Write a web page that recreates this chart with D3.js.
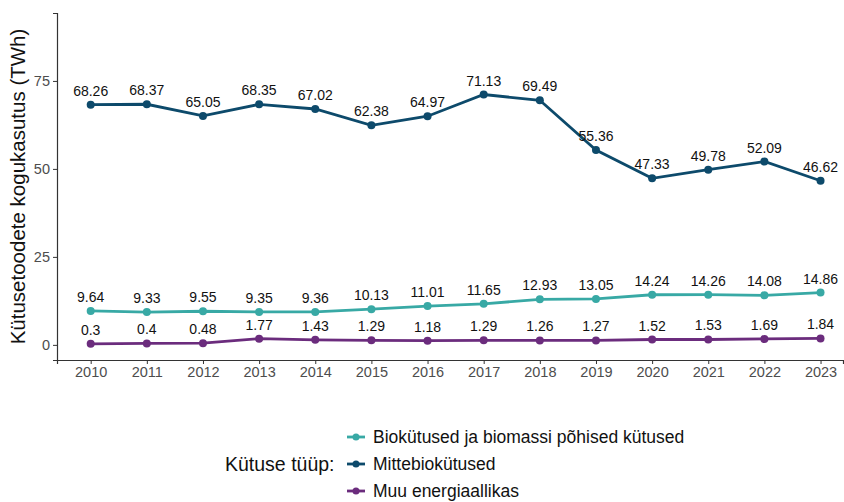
<!DOCTYPE html>
<html>
<head>
<meta charset="utf-8">
<script src="https://cdn.jsdelivr.net/npm/d3@7"></script>
<style>
  body { margin: 0; background: #fff; }
  svg { display: block; font-family: "Liberation Sans", Arial, sans-serif; }
</style>
</head>
<body>
<div id="chart"></div>
<script>
// andmed
const years = [2010, 2011, 2012, 2013, 2014, 2015, 2016, 2017, 2018, 2019, 2020, 2021, 2022, 2023];
const seriesNames = ['Biokütused ja biomassi põhised kütused', 'Mittebiokütused', 'Muu energiaallikas'];
const bioValues   = [9.64, 9.33, 9.55, 9.35, 9.36, 10.13, 11.01, 11.65, 12.93, 13.05, 14.24, 14.26, 14.08, 14.86];
const nonBioValues = [68.26, 68.37, 65.05, 68.35, 67.02, 62.38, 64.97, 71.13, 69.49, 55.36, 47.33, 49.78, 52.09, 46.62];
const otherValues = [0.3, 0.4, 0.48, 1.77, 1.43, 1.29, 1.18, 1.29, 1.26, 1.27, 1.52, 1.53, 1.69, 1.84];
const yTicks = [0, 25, 50, 75];
const seriesColors = ['#38a9a5', '#0d4a6b', '#6b2c7d'];

const W = 844, H = 502;
const margin = { top: 13, right: 1, bottom: 142, left: 57 };
const width = W - margin.left - margin.right;
const height = H - margin.top - margin.bottom;

const svgRoot = d3.select('#chart').append('svg')
  .attr('width', W).attr('height', H);
const svg = svgRoot.append('g')
  .attr('transform', `translate(${margin.left},${margin.top})`);

const x = d3.scaleLinear()
  .domain([2009.4, 2023.4])
  .range([0, width]);

const y = d3.scaleLinear()
  .domain([-4.3, 94.3])
  .range([height, 0]);

const color = d3.scaleOrdinal().domain(seriesNames).range(seriesColors);

const series = [
  { name: seriesNames[0], values: bioValues },
  { name: seriesNames[1], values: nonBioValues },
  { name: seriesNames[2], values: otherValues }
];

// teljed
const xAxis = svg.append('g')
  .attr('transform', `translate(0,${height})`)
  .call(d3.axisBottom(x).tickValues(years).tickFormat(d3.format('d')).tickSize(4).tickPadding(3));
const yAxis = svg.append('g')
  .call(d3.axisLeft(y).tickValues(yTicks).tickSize(4).tickPadding(3));

[xAxis, yAxis].forEach(a => {
  a.select('.domain').attr('stroke', '#333').attr('stroke-width', 1.2);
  a.selectAll('.tick line').attr('stroke', '#333');
  a.selectAll('.tick text').attr('fill', '#4d4d4d').attr('font-size', 14.5)
    .attr('font-family', '"Liberation Sans", Arial, sans-serif');
});

svgRoot.append('text')
  .attr('transform', `translate(25,${margin.top + height / 2}) rotate(-90)`)
  .attr('text-anchor', 'middle')
  .attr('font-size', 20.5)
  .attr('fill', '#111')
  .text('Kütusetoodete kogukasutus (TWh)');

// jooned
const line = d3.line()
  .x((d, i) => x(years[i]))
  .y(d => y(d));

series.forEach(s => {
  const g = svg.append('g');
  g.append('path')
    .datum(s.values)
    .attr('d', line)
    .attr('fill', 'none')
    .attr('stroke', color(s.name))
    .attr('stroke-width', 2.8);
  g.selectAll('circle')
    .data(s.values)
    .join('circle')
      .attr('cx', (d, i) => x(years[i]))
      .attr('cy', d => y(d))
      .attr('r', 4)
      .attr('fill', color(s.name));
  g.selectAll('text')
    .data(s.values)
    .join('text')
      .attr('x', (d, i) => x(years[i]))
      .attr('y', d => y(d) - 9)
      .attr('text-anchor', 'middle')
      .attr('font-size', 14)
      .attr('fill', '#111')
      .text(d => d);
});

// legend
const legend = svgRoot.append('g');
const legY = [437, 464, 491];
legend.append('text')
  .attr('x', 225).attr('y', legY[1] + 7)
  .attr('font-size', 19.5)
  .attr('fill', '#111')
  .text('Kütuse tüüp:');

seriesNames.forEach((n, i) => {
  legend.append('line')
    .attr('x1', 347).attr('x2', 365)
    .attr('y1', legY[i]).attr('y2', legY[i])
    .attr('stroke', color(n)).attr('stroke-width', 2.8);
  legend.append('circle')
    .attr('cx', 356).attr('cy', legY[i]).attr('r', 3.5)
    .attr('fill', color(n));
  legend.append('text')
    .attr('x', 373).attr('y', legY[i] + 6)
    .attr('font-size', 17.5)
    .attr('fill', '#111')
    .text(n);
});
</script>
</body>
</html>
